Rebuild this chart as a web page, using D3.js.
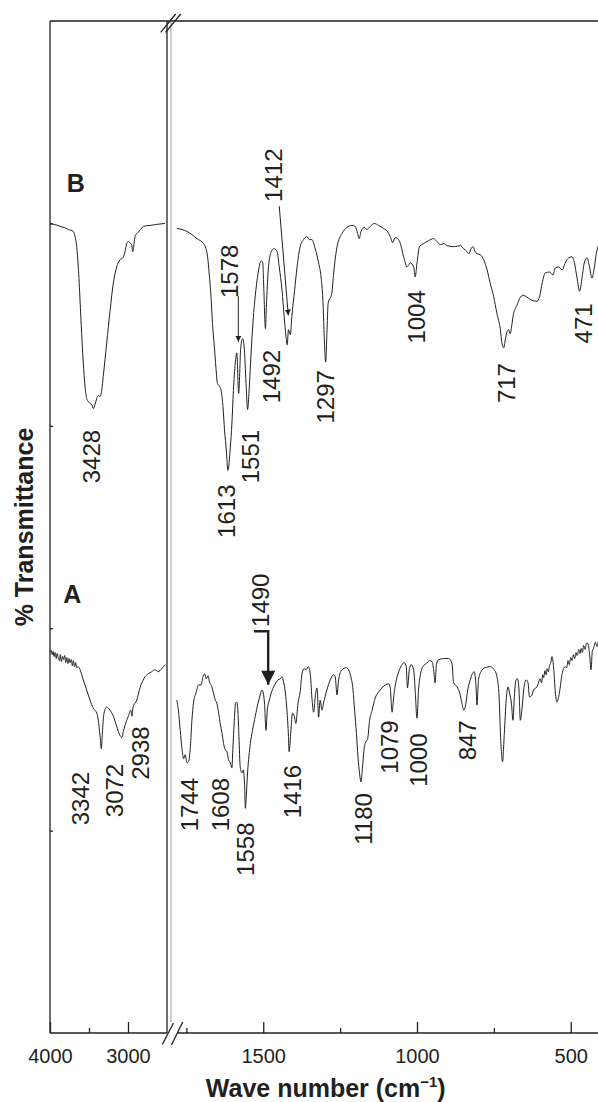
<!DOCTYPE html>
<html>
<head>
<meta charset="utf-8">
<script src="https://cdn.jsdelivr.net/npm/d3@7"></script>
<style>
  html, body { margin: 0; padding: 0; background: #fff; }
  svg { display: block; font-family: "Liberation Sans", Arial, Helvetica, sans-serif; }
</style>
</head>
<body>
<div id="chart"></div>
<script>

// Spectra: [wave number (cm-1), % transmittance (stacked, arbitrary offset)].
// The x axis is broken, so each spectrum is kept as a high (4000-2500) and a low (1800-400) part.
const spectrumB_high = [
    [4000, 80.0], [3950, 79.9], [3900, 79.8], [3872, 79.7], [3820, 79.6], [3765, 79.4], [3701, 79.2],
    [3679, 78.7], [3658, 77.7], [3637, 75.7], [3615, 72.4], [3594, 69.1], [3573, 66.2], [3551, 63.9],
    [3530, 62.7], [3509, 62.4], [3487, 62.2], [3465, 62.1], [3445, 61.7], [3423, 62.1], [3401, 62.7],
    [3381, 63.0], [3359, 62.9], [3337, 63.5], [3317, 64.9], [3273, 68.2], [3230, 71.4], [3188, 74.1],
    [3145, 75.7], [3103, 76.4], [3068, 76.6], [3038, 77.2], [3017, 78.0], [2996, 78.2], [2965, 78.0],
    [2953, 77.9], [2940, 77.2], [2923, 78.0], [2910, 78.7], [2888, 79.0], [2846, 79.3], [2804, 79.7],
    [2718, 79.8], [2632, 79.9], [2526, 80.0]
];

const spectrumB_low = [
    [1781, 79.5], [1764, 79.4], [1748, 79.2], [1732, 78.9], [1716, 78.5], [1705, 78.3], [1694, 78.0],
    [1686, 77.5], [1681, 76.7], [1676, 75.1], [1670, 72.8], [1665, 70.1], [1659, 67.8], [1654, 65.8],
    [1649, 64.2], [1642, 63.9], [1637, 63.5], [1631, 61.9], [1626, 59.6], [1620, 57.6], [1615, 55.6],
    [1607, 57.9], [1602, 60.2], [1597, 63.5], [1591, 66.2], [1586, 67.2], [1580, 63.2], [1573, 67.8],
    [1567, 68.6], [1562, 67.8], [1556, 64.2], [1551, 61.6], [1546, 63.5], [1539, 67.5], [1532, 70.8],
    [1524, 73.4], [1515, 75.4], [1507, 76.3], [1502, 76.2], [1498, 73.4], [1493, 69.6], [1489, 72.4],
    [1483, 75.7], [1474, 77.2], [1465, 77.5], [1455, 77.2], [1448, 75.7], [1439, 73.4], [1432, 70.8],
    [1426, 68.8], [1422, 68.0], [1418, 69.5], [1412, 69.0], [1407, 70.8], [1398, 73.4], [1390, 75.7],
    [1380, 77.7], [1369, 78.4], [1358, 78.7], [1350, 78.4], [1342, 78.4], [1331, 77.5], [1320, 76.1],
    [1312, 74.7], [1306, 72.4], [1302, 69.1], [1297, 66.3], [1293, 69.1], [1289, 72.1], [1277, 73.1],
    [1271, 75.1], [1260, 77.7], [1244, 79.0], [1228, 79.6], [1211, 79.8], [1201, 79.7], [1193, 79.0],
    [1188, 78.5], [1182, 79.2], [1171, 79.6], [1163, 79.4], [1152, 79.7], [1139, 80.0], [1125, 79.8],
    [1109, 79.5], [1096, 79.2], [1087, 78.7], [1079, 78.1], [1071, 78.6], [1063, 78.5], [1054, 78.0],
    [1046, 77.0], [1038, 76.1], [1033, 75.7], [1027, 75.9], [1022, 76.1], [1011, 75.7], [1006, 74.7],
    [1000, 76.1], [992, 77.7], [979, 78.0], [962, 78.3], [946, 78.5], [935, 78.2], [924, 77.9],
    [913, 78.0], [902, 77.8], [881, 77.7], [859, 77.8], [848, 77.5], [837, 77.2], [832, 77.0],
    [824, 77.5], [818, 77.7], [811, 77.2], [805, 77.0], [794, 76.9], [783, 76.4], [772, 75.4],
    [762, 74.1], [751, 72.8], [740, 71.1], [729, 69.5], [724, 68.2], [718, 67.7], [713, 68.5],
    [707, 69.3], [702, 69.5], [697, 69.1], [691, 70.1], [686, 71.1], [680, 71.6], [675, 71.9],
    [666, 72.6], [655, 72.9], [642, 72.7], [626, 72.4], [610, 72.3], [601, 72.8], [593, 74.1],
    [583, 75.1], [569, 75.2], [558, 74.9], [550, 75.6], [539, 75.7], [528, 75.4], [518, 76.1],
    [507, 76.6], [496, 76.7], [488, 76.1], [480, 74.7], [471, 73.3], [463, 74.7], [456, 76.1],
    [447, 76.6], [439, 75.7], [431, 74.6], [423, 75.7], [417, 77.0], [409, 77.9], [400, 78.5]
];

const spectrumA_high = [
    [4000, 37.6], [3985, 37.8], [3972, 37.4], [3960, 37.7], [3948, 37.2], [3935, 37.6], [3920, 37.0],
    [3908, 37.5], [3895, 37.1], [3880, 36.8], [3868, 37.4], [3855, 36.7], [3840, 37.2], [3826, 36.9],
    [3812, 37.3], [3798, 36.6], [3785, 37.1], [3770, 36.5], [3756, 37.0], [3742, 36.6], [3728, 36.9],
    [3714, 36.3], [3700, 36.8], [3686, 36.2], [3672, 36.6], [3658, 36.1], [3640, 36.2], [3615, 35.9],
    [3573, 34.9], [3530, 33.9], [3487, 32.9], [3445, 32.1], [3401, 31.6], [3381, 30.9], [3359, 29.4],
    [3342, 28.1], [3329, 29.6], [3308, 31.6], [3273, 32.2], [3231, 31.9], [3188, 31.3], [3145, 30.3],
    [3103, 29.4], [3078, 29.2], [3060, 29.8], [3038, 30.4], [2996, 31.3], [2965, 31.9], [2949, 31.3],
    [2938, 32.1], [2888, 32.9], [2846, 34.1], [2782, 35.2], [2740, 35.5], [2696, 35.7], [2654, 35.9],
    [2612, 35.7], [2568, 36.0], [2526, 36.4]
];

const spectrumA_low = [
    [1781, 32.9], [1776, 31.9], [1770, 29.9], [1764, 28.0], [1759, 27.1], [1754, 27.5], [1748, 26.7],
    [1743, 26.8], [1737, 28.3], [1732, 30.9], [1727, 32.6], [1719, 33.6], [1710, 34.4], [1702, 34.4],
    [1696, 35.2], [1691, 35.5], [1685, 35.0], [1680, 35.3], [1675, 34.7], [1667, 34.2], [1662, 33.6],
    [1656, 32.9], [1651, 32.6], [1645, 31.6], [1640, 30.6], [1634, 29.6], [1629, 28.6], [1624, 28.0],
    [1618, 27.8], [1613, 27.0], [1607, 26.7], [1602, 26.2], [1599, 28.0], [1594, 30.9], [1590, 32.6],
    [1586, 32.7], [1582, 31.6], [1579, 29.3], [1575, 26.3], [1569, 25.7], [1565, 26.0], [1561, 24.7],
    [1558, 22.2], [1555, 23.5], [1551, 25.7], [1542, 28.6], [1535, 29.9], [1526, 31.3], [1517, 32.6],
    [1510, 33.4], [1504, 33.9], [1500, 33.6], [1496, 32.6], [1491, 29.9], [1487, 31.9], [1480, 32.9],
    [1474, 33.6], [1466, 34.2], [1459, 34.6], [1452, 34.9], [1445, 35.0], [1439, 35.2], [1434, 34.7],
    [1428, 33.6], [1423, 31.9], [1418, 29.3], [1416, 27.8], [1410, 29.9], [1405, 31.6], [1399, 31.3],
    [1394, 30.6], [1387, 32.6], [1380, 33.7], [1374, 35.5], [1367, 36.0], [1360, 35.9], [1354, 36.2],
    [1347, 35.5], [1342, 33.2], [1336, 31.7], [1331, 33.2], [1325, 34.1], [1320, 31.2], [1315, 32.9],
    [1309, 31.9], [1304, 32.6], [1293, 33.9], [1282, 34.9], [1271, 35.4], [1266, 35.2], [1260, 33.4],
    [1255, 34.9], [1244, 35.9], [1230, 36.1], [1223, 35.9], [1215, 35.2], [1208, 33.9], [1203, 31.9],
    [1197, 29.6], [1192, 27.3], [1187, 25.7], [1182, 24.8], [1178, 26.0], [1171, 28.3], [1166, 28.8],
    [1161, 29.0], [1154, 30.9], [1146, 31.9], [1136, 33.1], [1125, 33.7], [1114, 34.1], [1103, 34.4],
    [1092, 34.5], [1087, 34.1], [1081, 31.7], [1076, 33.2], [1067, 34.9], [1057, 35.9], [1049, 36.4],
    [1041, 36.6], [1035, 36.2], [1031, 34.1], [1025, 35.9], [1019, 36.4], [1011, 35.9], [1006, 33.9],
    [1000, 31.1], [995, 33.9], [989, 35.4], [981, 36.2], [970, 36.5], [959, 36.8], [951, 36.7],
    [946, 35.9], [941, 34.6], [937, 36.4], [930, 36.9], [913, 37.0], [897, 37.0], [886, 36.5],
    [881, 34.6], [870, 34.2], [861, 33.6], [854, 32.6], [848, 31.9], [842, 32.4], [835, 33.9],
    [827, 34.9], [820, 35.5], [814, 35.7], [808, 34.2], [805, 32.4], [800, 34.9], [792, 35.7],
    [778, 36.1], [762, 36.2], [749, 35.9], [740, 35.2], [733, 33.2], [729, 29.9], [725, 27.6],
    [722, 26.8], [716, 29.6], [710, 32.9], [704, 34.2], [699, 33.6], [693, 32.6], [688, 30.9],
    [684, 32.9], [678, 34.9], [673, 35.0], [668, 33.7], [664, 30.9], [658, 32.2], [653, 33.9],
    [645, 34.9], [639, 34.6], [634, 33.2], [626, 33.4], [621, 33.9], [610, 34.2], [599, 35.0],
    [595, 34.6], [591, 35.4], [588, 35.1], [584, 35.8], [580, 35.4], [577, 36.0], [573, 35.7],
    [569, 36.3], [565, 36.6], [561, 37.2], [556, 36.2], [550, 33.6], [545, 32.7], [537, 33.6],
    [528, 35.5], [518, 36.2], [513, 36.1], [509, 36.8], [505, 36.4], [500, 37.1], [496, 36.8],
    [491, 37.4], [487, 37.0], [483, 37.6], [479, 37.3], [474, 37.9], [470, 37.5], [466, 38.0],
    [462, 37.6], [458, 38.3], [453, 37.9], [449, 38.5], [445, 38.5], [439, 37.5], [434, 35.9],
    [430, 37.7], [426, 38.0], [420, 38.6], [415, 38.2], [409, 38.8], [404, 38.5], [400, 39.0]
];

// Axis ticks.
const majorTicksHigh = [4000, 3000];
const minorTicksHigh = [3500];
const majorTicksLow = [1500, 1000, 500];
const minorTicksLow = [1750, 1250, 750];
const yTicks = [20, 40, 60, 80];

// Peak annotations: label text, wave number under the label's centre and % T at the label's top end.
const peakLabelsB = [
    { text: '3428', wn: 3470, t: 59.6 }, { text: '1613', wn: 1620, t: 54.2 },
    { text: '1578', wn: 1609, t: 77.9 }, { text: '1551', wn: 1543, t: 59.6 },
    { text: '1492', wn: 1475, t: 67.5 }, { text: '1412', wn: 1466, t: 87.4 },
    { text: '1297', wn: 1297, t: 65.5 }, { text: '1004', wn: 1001, t: 73.4 },
    { text: '717', wn: 708, t: 66.2 }, { text: '471', wn: 459, t: 72.1 }
];
const peakLabelsA = [
    { text: '3342', wn: 3605, t: 25.8 }, { text: '3072', wn: 3177, t: 26.6 },
    { text: '2938', wn: 2846, t: 30.3 }, { text: '1744', wn: 1741, t: 25.2 },
    { text: '1608', wn: 1641, t: 25.2 }, { text: '1558', wn: 1559, t: 20.8 },
    { text: '1490', wn: 1508, t: 45.4 }, { text: '1416', wn: 1406, t: 26.5 },
    { text: '1180', wn: 1175, t: 23.7 }, { text: '1079', wn: 1090, t: 30.9 },
    { text: '1000', wn: 996, t: 29.6 }, { text: '847', wn: 836, t: 30.9 }
];

// Pointer arrows (thin ones on B, the bold elbow one on A).
const thinArrows = [
    [[1581, 72.8], [1581, 68.3]],
    [[1448, 81.7], [1418.5, 70.9]]
];
const boldArrow = [[1530, 39.7], [1484, 39.7], [1484, 34.4]];

// Trace names, placed in the high wave number panel.
const traceNames = [{ text: 'B', wn: 3786, t: 83.1 }, { text: 'A', wn: 3829, t: 42.5 }];

const width = 598;
const height = 1102;
const ink = '#231f20';

const svg = d3.select('#chart').append('svg').attr('width', width).attr('height', height);

const xHigh = d3.scaleLinear().domain([4000, 2500]).range([50, 167]);
const xLow = d3.scaleLinear().domain([1800, 400]).range([171, 601.5]);
const y = d3.scaleLinear().domain([0, 100]).range([1033, 21]);

// Pick the scale of the panel a wave number falls in.
const xFor = wn => wn > 2000 ? xHigh(wn) : xLow(wn);

const breakX = (xHigh(2500) + xLow(1800)) / 2;

// Frame: top edge, left edge, the two edges on each side of the axis break.
svg.append('line').attr('x1', xHigh(4000)).attr('x2', width).attr('y1', y(100)).attr('y2', y(100))
    .attr('stroke', ink).attr('stroke-width', 1.3);
svg.append('line').attr('x1', xHigh(4000)).attr('x2', xHigh(4000)).attr('y1', y(100)).attr('y2', y(0))
    .attr('stroke', ink).attr('stroke-width', 1.3);
svg.append('line').attr('x1', xHigh(2500)).attr('x2', xHigh(2500)).attr('y1', y(100)).attr('y2', y(0))
    .attr('stroke', ink).attr('stroke-width', 1.3);
svg.append('line').attr('x1', xLow(1800)).attr('x2', xLow(1800)).attr('y1', y(100)).attr('y2', y(0) - 11)
    .attr('stroke', '#9a9a9a').attr('stroke-width', 1);

// Bottom axis lines, drawn by hand so the break gap stays open.
svg.append('line').attr('x1', xHigh(4000)).attr('x2', xHigh(2500)).attr('y1', y(0)).attr('y2', y(0))
    .attr('stroke', ink).attr('stroke-width', 1.3);
svg.append('line').attr('x1', breakX + 9).attr('x2', width).attr('y1', y(0)).attr('y2', y(0))
    .attr('stroke', ink).attr('stroke-width', 1.3);

// Break marks, top and bottom.
[[[-8.3, 11.3], [6.7, -7]], [[-3.5, 11.3], [11.7, -7]]].forEach(([a, b]) => {
    svg.append('line').attr('x1', breakX + a[0]).attr('y1', y(100) + a[1])
        .attr('x2', breakX + b[0]).attr('y2', y(100) + b[1]).attr('stroke', ink).attr('stroke-width', 1.3);
});
[[[-6.7, 11.5], [4.5, -10]], [[2.5, 12], [13.7, -11]]].forEach(([a, b]) => {
    svg.append('line').attr('x1', breakX + a[0]).attr('y1', y(0) + a[1])
        .attr('x2', breakX + b[0]).attr('y2', y(0) + b[1]).attr('stroke', ink).attr('stroke-width', 1.3);
});

// Ticks: inward, labels under the major ones.
const drawAxis = (scale, ticks, size, labelled) => {
    svg.append('g')
        .attr('transform', `translate(0,${y(0)})`)
        .call(d3.axisBottom(scale).tickValues(ticks).tickSize(-size).tickSizeOuter(0).tickPadding(16)
            .tickFormat(labelled ? d3.format('d') : () => ''))
        .call(g => g.select('.domain').remove())
        .call(g => g.attr('font-family', null).attr('font-size', 20))
        .call(g => g.selectAll('line').attr('stroke', ink).attr('stroke-width', 1.3))
        .call(g => g.selectAll('text').attr('fill', ink));
};
drawAxis(xHigh, majorTicksHigh, 11, true);
drawAxis(xHigh, minorTicksHigh, 5, false);
drawAxis(xLow, majorTicksLow, 11, true);
drawAxis(xLow, minorTicksLow, 5, false);

svg.append('g')
    .attr('transform', `translate(${xHigh(4000)},0)`)
    .call(d3.axisLeft(y).tickValues(yTicks).tickSize(-3).tickFormat(() => ''))
    .call(g => g.select('.domain').remove())
    .call(g => g.selectAll('line').attr('stroke', ink).attr('stroke-width', 1.3));

// Spectra.
const lineFor = scale => d3.line().curve(d3.curveMonotoneX).x(d => scale(d[0])).y(d => y(d[1]));

[[spectrumB_high, xHigh], [spectrumB_low, xLow], [spectrumA_high, xHigh], [spectrumA_low, xLow]]
    .forEach(([data, scale]) => {
        svg.append('path').datum(data).attr('d', lineFor(scale))
            .attr('fill', 'none').attr('stroke', ink).attr('stroke-width', 1).attr('stroke-linejoin', 'round');
    });

// Peak labels, rotated to read upward.
const labelSize = 24;
[...peakLabelsB, ...peakLabelsA].forEach(d => {
    svg.append('text')
        .attr('transform', `translate(${xFor(d.wn) + labelSize * 0.36},${y(d.t)}) rotate(-90)`)
        .attr('text-anchor', 'end')
        .attr('font-size', labelSize)
        .attr('fill', ink)
        .text(d.text);
});

// Arrows.
const defs = svg.append('defs');
defs.append('marker').attr('id', 'head-thin').attr('viewBox', '0 0 10 10').attr('refX', 10).attr('refY', 5)
    .attr('markerWidth', 6).attr('markerHeight', 13).attr('markerUnits', 'userSpaceOnUse').attr('orient', 'auto')
    .append('path').attr('d', 'M0,0L10,5L0,10Z').attr('fill', ink);
defs.append('marker').attr('id', 'head-bold').attr('viewBox', '0 0 10 10').attr('refX', 10).attr('refY', 5)
    .attr('markerWidth', 22).attr('markerHeight', 14).attr('markerUnits', 'userSpaceOnUse').attr('orient', 'auto')
    .append('path').attr('d', 'M0,0L10,5L0,10Z').attr('fill', ink);

const arrowLine = d3.line().x(d => xFor(d[0])).y(d => y(d[1]));
thinArrows.forEach(a => {
    svg.append('path').attr('d', arrowLine(a)).attr('fill', 'none').attr('stroke', ink)
        .attr('stroke-width', 1).attr('marker-end', 'url(#head-thin)');
});
svg.append('path').attr('d', arrowLine(boldArrow)).attr('fill', 'none').attr('stroke', ink)
    .attr('stroke-width', 2.4).attr('marker-end', 'url(#head-bold)');

// Trace names.
traceNames.forEach(d => {
    svg.append('text').attr('x', xFor(d.wn)).attr('y', y(d.t))
        .attr('font-size', 25).attr('font-weight', 'bold').attr('fill', ink).text(d.text);
});

// Axis titles.
const xTitle = svg.append('text')
    .attr('x', (xHigh(4000) + xLow(400)) / 2).attr('y', 1097)
    .attr('text-anchor', 'middle').attr('font-size', 25).attr('font-weight', 'bold').attr('fill', ink);
xTitle.append('tspan').text('Wave number (cm');
xTitle.append('tspan').attr('font-size', 15).attr('dy', -10).text('\u22121');
xTitle.append('tspan').attr('dy', 10).text(')');

svg.append('text')
    .attr('transform', `translate(33,${(y(0) + y(100)) / 2}) rotate(-90)`)
    .attr('text-anchor', 'middle').attr('font-size', 25).attr('font-weight', 'bold').attr('fill', ink)
    .text('% Transmittance');

</script>
</body>
</html>
